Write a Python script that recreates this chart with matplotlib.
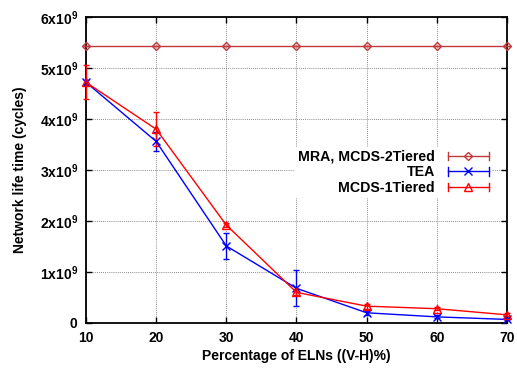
import numpy as np
import matplotlib
matplotlib.use("Agg")
import matplotlib.pyplot as plt
from matplotlib.legend_handler import HandlerBase
from matplotlib.lines import Line2D

plt.rcParams["font.family"] = ["Liberation Sans", "DejaVu Sans"]
plt.rcParams["font.weight"] = "bold"
plt.rcParams["mathtext.fontset"] = "custom"
plt.rcParams["mathtext.rm"] = "Liberation Sans:bold"
plt.rcParams["mathtext.default"] = "rm"

# data (values in units of 1e9 cycles)
x_pct = [10, 20, 30, 40, 50, 60, 70]
mra = [5.43, 5.43, 5.43, 5.43, 5.43, 5.43, 5.43]
mra_err = [0, 0, 0, 0, 0, 0, 0]
tea = [4.72, 3.56, 1.51, 0.68, 0.20, 0.12, 0.07]
tea_err = [0.05, 0.18, 0.26, 0.35, 0.04, 0.03, 0.02]
mcds1 = [4.72, 3.80, 1.92, 0.60, 0.33, 0.28, 0.16]
mcds1_err = [0.33, 0.33, 0.04, 0.06, 0.05, 0.03, 0.03]

yticks = [0, 1, 2, 3, 4, 5, 6]
ytick_labels = ["0"] + ["%dx10$^9$" % v for v in yticks[1:]]

c_mra = "#c0393b"
c_tea = "#0000ff"
c_mcds = "#ff0000"

fig = plt.figure(figsize=(5.17, 3.68), dpi=100)
ax = fig.add_axes([0.1663, 0.1223, 0.8144, 0.8315])

series = [
    ("MRA, MCDS-2Tiered", mra, mra_err, c_mra, "D", 5),
    ("TEA", tea, tea_err, c_tea, "x", 6),
    ("MCDS-1Tiered", mcds1, mcds1_err, c_mcds, "^", 6),
]

handles = []
for label, vals, err, col, mk, ms in series:
    ax.errorbar(x_pct, np.array(vals) * 1e9, yerr=np.array(err) * 1e9,
                color=col, marker=mk, markersize=ms if mk != "D" else 4.5,
                markerfacecolor="none", markeredgewidth=1.0, linewidth=1.0,
                capsize=2.5, elinewidth=1.0, capthick=1.0, clip_on=False,
                zorder=3)
    handles.append(Line2D([], [], color=col, marker=mk,
                          markersize=ms if mk != "D" else 4.5,
                          markerfacecolor="none", linewidth=1.0, label=label))


class ErrBarHandler(HandlerBase):
    def create_artists(self, legend, orig, xdescent, ydescent, width, height,
                       fontsize, trans):
        y = height / 2 - ydescent
        x0, x1 = -xdescent, -xdescent + width
        col = orig.get_color()
        line = Line2D([x0, x1], [y, y], color=col, linewidth=1.0)
        cap0 = Line2D([x0, x0], [y - 3, y + 3], color=col, linewidth=1.0)
        cap1 = Line2D([x1, x1], [y - 3, y + 3], color=col, linewidth=1.0)
        mk = Line2D([(x0 + x1) / 2], [y], color=col, marker=orig.get_marker(),
                    markersize=orig.get_markersize(), markerfacecolor="none",
                    linestyle="none")
        arts = [line, cap0, cap1, mk]
        for a in arts:
            a.set_transform(trans)
        return arts


leg = ax.legend(handles=handles, handler_map={Line2D: ErrBarHandler()},
                markerfirst=False, loc="upper right",
                bbox_to_anchor=(0.98, 0.598), fontsize=10.2,
                handlelength=2.9, handletextpad=0.9, labelspacing=0.1,
                frameon=True, borderpad=0.2, fancybox=False)
leg.get_frame().set_edgecolor("none")
leg.get_frame().set_facecolor("white")
leg.get_frame().set_alpha(1.0)
leg.set_zorder(5)

ax.set_xlim(10, 70)
ax.set_ylim(0, 6e9)
ax.set_xticks(x_pct)
ax.set_yticks(np.array(yticks) * 1e9)
ax.set_yticklabels(ytick_labels)
ax.tick_params(direction="in", top=True, right=True, labelsize=10,
               length=4, width=1.0, pad=6)
for t in ax.get_xticklabels() + ax.get_yticklabels():
    t.set_fontweight("bold")

ax.grid(True, color="#666666", linestyle=(0, (1, 1.5)), linewidth=0.6)
ax.set_axisbelow(True)
for s in ax.spines.values():
    s.set_linewidth(1.3)

ax.set_xlabel("Percentage of ELNs ((V-H)%)", fontsize=10, fontweight="bold",
              labelpad=3)
ax.set_ylabel("Network life time (cycles)", fontsize=10, fontweight="bold",
              labelpad=9)

fig.savefig("out.png", dpi=100)
